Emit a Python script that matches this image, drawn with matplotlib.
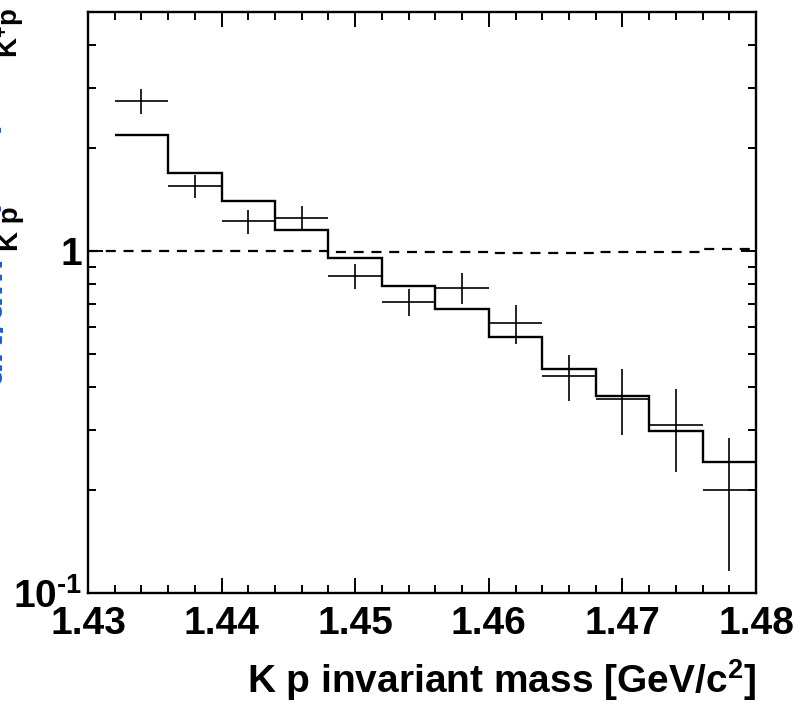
import matplotlib
matplotlib.use('Agg')
import matplotlib.pyplot as plt
import numpy as np
from matplotlib.ticker import MultipleLocator, LogLocator, NullFormatter

plt.rcParams['font.family'] = ['Liberation Sans', 'DejaVu Sans']
plt.rcParams['font.weight'] = 'bold'
plt.rcParams['mathtext.fontset'] = 'custom'
plt.rcParams['mathtext.rm'] = 'Liberation Sans:bold'
plt.rcParams['mathtext.bf'] = 'Liberation Sans:bold'
plt.rcParams['mathtext.it'] = 'Liberation Sans:bold'
plt.rcParams['mathtext.default'] = 'rm'

# bins of K p invariant mass [GeV/c^2]
edges = [1.432, 1.436, 1.440, 1.444, 1.448, 1.452, 1.456,
         1.460, 1.464, 1.468, 1.472, 1.476, 1.480]
centers = [1.434, 1.438, 1.442, 1.446, 1.450, 1.454,
           1.458, 1.462, 1.466, 1.470, 1.474, 1.478]

# measured ratio with errors
ratio = [2.75, 1.55, 1.22, 1.25, 0.845, 0.71,
         0.78, 0.615, 0.43, 0.37, 0.31, 0.20]
ratio_err = [0.23, 0.12, 0.096, 0.10, 0.072, 0.066,
             0.08, 0.08, 0.065, 0.081, 0.084, 0.084]

# model curve
model = [2.18, 1.69, 1.40, 1.15, 0.955, 0.79,
         0.675, 0.56, 0.452, 0.378, 0.298, 0.242]

# reference ratio (dashed)
ref_edges = [1.430, 1.436, 1.440, 1.444, 1.448, 1.452, 1.456,
             1.460, 1.464, 1.468, 1.472, 1.476, 1.480]
ref = [1.002, 1.002, 1.002, 1.002, 0.993, 0.993,
       0.995, 0.989, 0.989, 0.993, 0.993, 1.016]

W, H = 801, 705
fig = plt.figure(figsize=(W / 100, H / 100), dpi=100)
ax = fig.add_axes([88 / W, 1 - 593 / H, (756 - 88) / W, (593 - 12) / H])

ax.stairs(model, edges, baseline=None, color='black', lw=1.7)
ax.stairs(ref, ref_edges, baseline=None, color='black', lw=1.6,
          linestyle=(0, (4.5, 3.5)))
xerr = [(edges[i + 1] - edges[i]) / 2 for i in range(len(centers))]
ax.errorbar(centers, ratio, yerr=ratio_err, xerr=xerr, fmt='none',
            ecolor='black', elinewidth=1.2, capsize=0)

ax.set_yscale('log')
ax.set_xlim(1.43, 1.48)
ax.set_ylim(0.1, 5)

ax.xaxis.set_minor_locator(MultipleLocator(0.002))
ax.set_xticks([1.43, 1.44, 1.45, 1.46, 1.47, 1.48],
              labels=['1.43', '1.44', '1.45', '1.46', '1.47', '1.48'])
ax.set_yticks([0.1, 1], labels=['10$^{\u20101}$', '1'])
ax.yaxis.set_minor_locator(LogLocator(base=10, subs=np.arange(2, 10)))
ax.yaxis.set_minor_formatter(NullFormatter())

ax.tick_params(which='both', direction='in', top=True, right=True,
               width=1.4, labelsize=28)
ax.tick_params(which='major', length=11)
ax.tick_params(which='minor', length=5.5)
ax.tick_params(axis='x', pad=9)
ax.tick_params(axis='y', pad=4)
for s in ax.spines.values():
    s.set_linewidth(1.7)

ax.set_xlabel(r'K p invariant mass [GeV/c$^{2}$]', fontsize=28,
              fontweight='bold', loc='right')
ax.xaxis.set_label_coords(1.0, -0.172)
ax.xaxis.label.set_va('baseline')

# y title, mostly outside the canvas on the left
blue = '#1e5cc8'
def ytext(x, ytop, s, size, color):
    fig.text(x / W, 1 - ytop / H, s, rotation=90, rotation_mode='anchor',
             ha='right', va='baseline', fontsize=size, color=color,
             fontweight='bold')

ytext(1.5, 256, 'dN/dm', 30, blue)
ytext(18, 206, 'K p', 20, 'black')
ytext(1.5, 58, '/ dN/dm', 30, blue)
ytext(18, 8, r'K$^{+}$p', 20, 'black')

fig.savefig('out.png', dpi=100)
